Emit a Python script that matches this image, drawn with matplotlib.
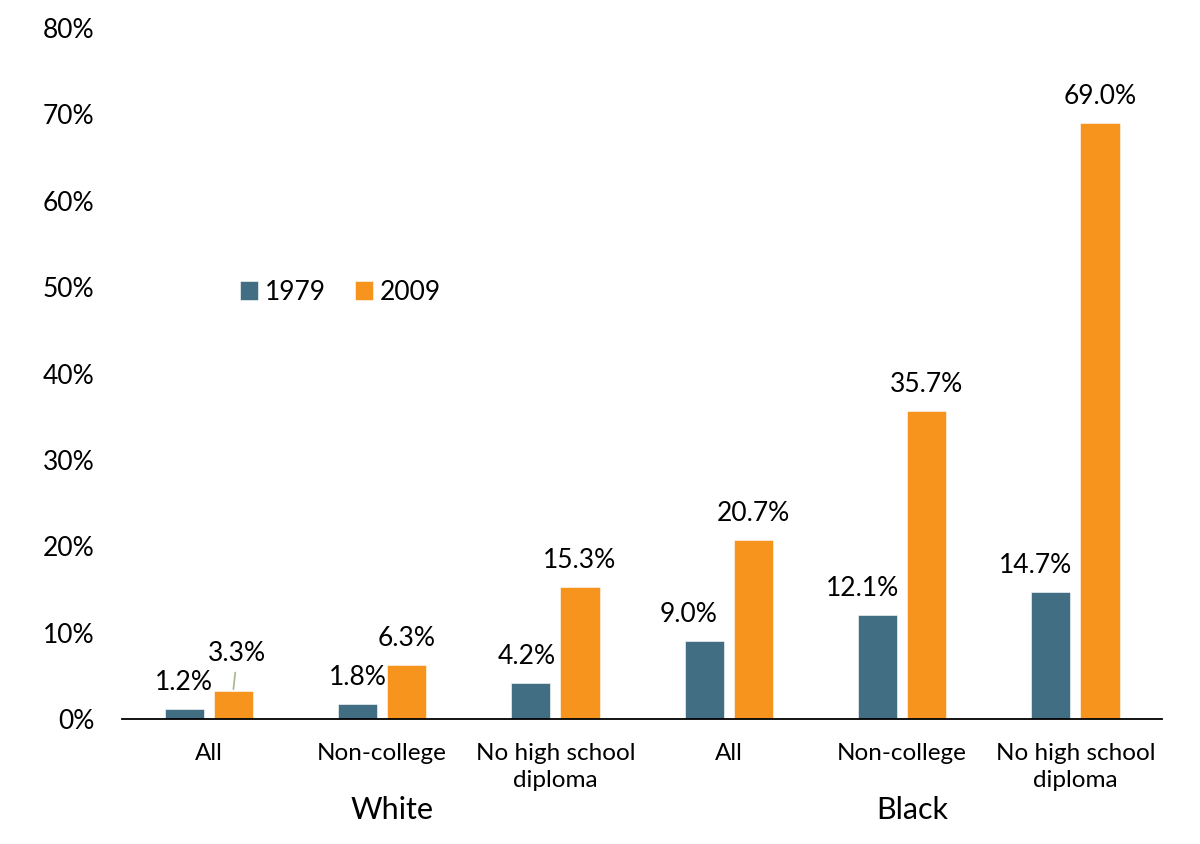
import numpy as np
import matplotlib.pyplot as plt

plt.rcParams['font.family'] = ['Lato', 'DejaVu Sans']

categories = ['All', 'Non-college', 'No high school\ndiploma',
              'All', 'Non-college', 'No high school\ndiploma']
groups = ['White', 'Black']
series = ['1979', '2009']
values_1979 = [1.2, 1.8, 4.2, 9.0, 12.1, 14.7]
values_2009 = [3.3, 6.3, 15.3, 20.7, 35.7, 69.0]

col_1979 = '#416e83'
col_2009 = '#f7941e'

fig = plt.figure(figsize=(12, 8.44), dpi=100)
ax = fig.add_axes([0.1017, 0.148, 0.8667, 0.8188])

x = np.arange(len(categories))
w = 0.226
off = 0.1415
ax.bar(x - off, values_1979, w, color=col_1979, label=series[0],
       edgecolor='white', linewidth=0.4)
ax.bar(x + off, values_2009, w, color=col_2009, label=series[1],
       edgecolor='white', linewidth=0.4)

# value labels
for i, v in enumerate(values_1979):
    dx = 0 if i < 2 else (-3 if i == 2 else -11)
    ax.annotate(f'{v:.1f}%', (x[i] - off, v), xytext=(dx, 10),
                textcoords='offset points', ha='center', va='bottom', fontsize=19)
for i, v in enumerate(values_2009):
    if i == 0:
        # label lifted with a leader line
        ax.annotate(f'{v:.1f}%', (x[i] + off, v), xytext=(3, 18),
                    textcoords='offset points', ha='center', va='bottom', fontsize=19,
                    arrowprops=dict(arrowstyle='-', color='#a5b58a', lw=1.2,
                                    shrinkA=3, shrinkB=1))
    else:
        ax.annotate(f'{v:.1f}%', (x[i] + off, v), xytext=(0, 10),
                    textcoords='offset points', ha='center', va='bottom', fontsize=19)

ax.set_xlim(-0.5, 5.5)
ax.set_ylim(0, 80)
ax.set_yticks(np.arange(0, 81, 10))
ax.set_yticklabels([f'{t}%' for t in range(0, 81, 10)])
ax.tick_params(axis='y', length=0, pad=20, labelsize=19)
ax.set_xticks(x)
ax.set_xticklabels(categories, fontsize=17.5, linespacing=1.4)
ax.tick_params(axis='x', length=0, pad=17)

for s in ['top', 'right', 'left']:
    ax.spines[s].set_visible(False)
ax.spines['bottom'].set_linewidth(1.3)

# group labels below categories
for gi, g in enumerate(groups):
    ax.text(1 + 3 * gi + 0.06, -10.5, g, ha='center', va='center', fontsize=22,
            transform=ax.transData)

ax.legend(loc='center left', bbox_to_anchor=(0.113, 0.618), frameon=False,
          ncol=2, fontsize=19, handlelength=0.7, handleheight=0.7,
          handletextpad=0.25, columnspacing=1.1, borderpad=0, borderaxespad=0)

fig.savefig('out.png', dpi=100)
